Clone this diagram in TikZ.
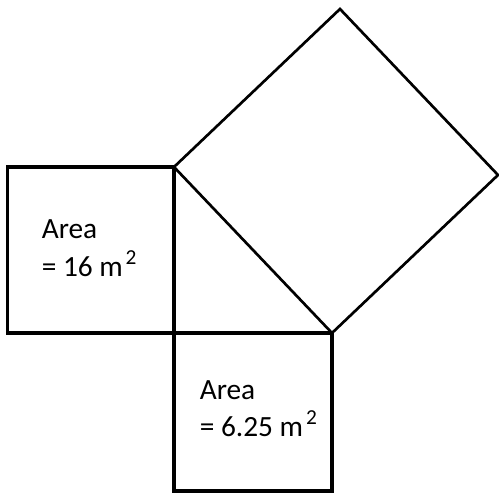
\documentclass[tikz,border=0pt]{standalone}
\usepackage{fontspec}
\setmainfont{Carlito}
\newcommand{\supx}[1]{\hspace{0.1em}\raisebox{0.38em}{\fontsize{16pt}{16pt}\selectfont #1}}
\begin{document}
\begin{tikzpicture}[x=0.75pt,y=-0.75pt,
  sq/.style={draw=black,line width=2.3pt,line join=miter},
  big/.style={draw=black,line width=2pt,line join=miter},
  lbl/.style={anchor=base west,inner sep=0pt,font=\fontsize{22pt}{22pt}\selectfont}]
\useasboundingbox (0,0) rectangle (499,494);
\coordinate (A) at (174,167);
\coordinate (B) at (174,333);
\coordinate (C) at (332,333);
\coordinate (D) at (340,9);
\coordinate (E) at (498,175);
% left square
\draw[sq] (7.5,167) rectangle (B);
% bottom square
\draw[sq] (B) rectangle (332,491);
% hypotenuse square
\draw[big] (A) -- (D) -- (E) -- (C) -- cycle;
% texts
\node[lbl] (t1) at (41.5,238) {Area};
\node[lbl] (t2) at (41.5,276) {= 16 m\supx{2}};
\node[lbl] (t3) at (199.5,399) {Area};
\node[lbl] (t4) at (199.5,436) {= 6.25 m\supx{2}};
\end{tikzpicture}
\end{document}
